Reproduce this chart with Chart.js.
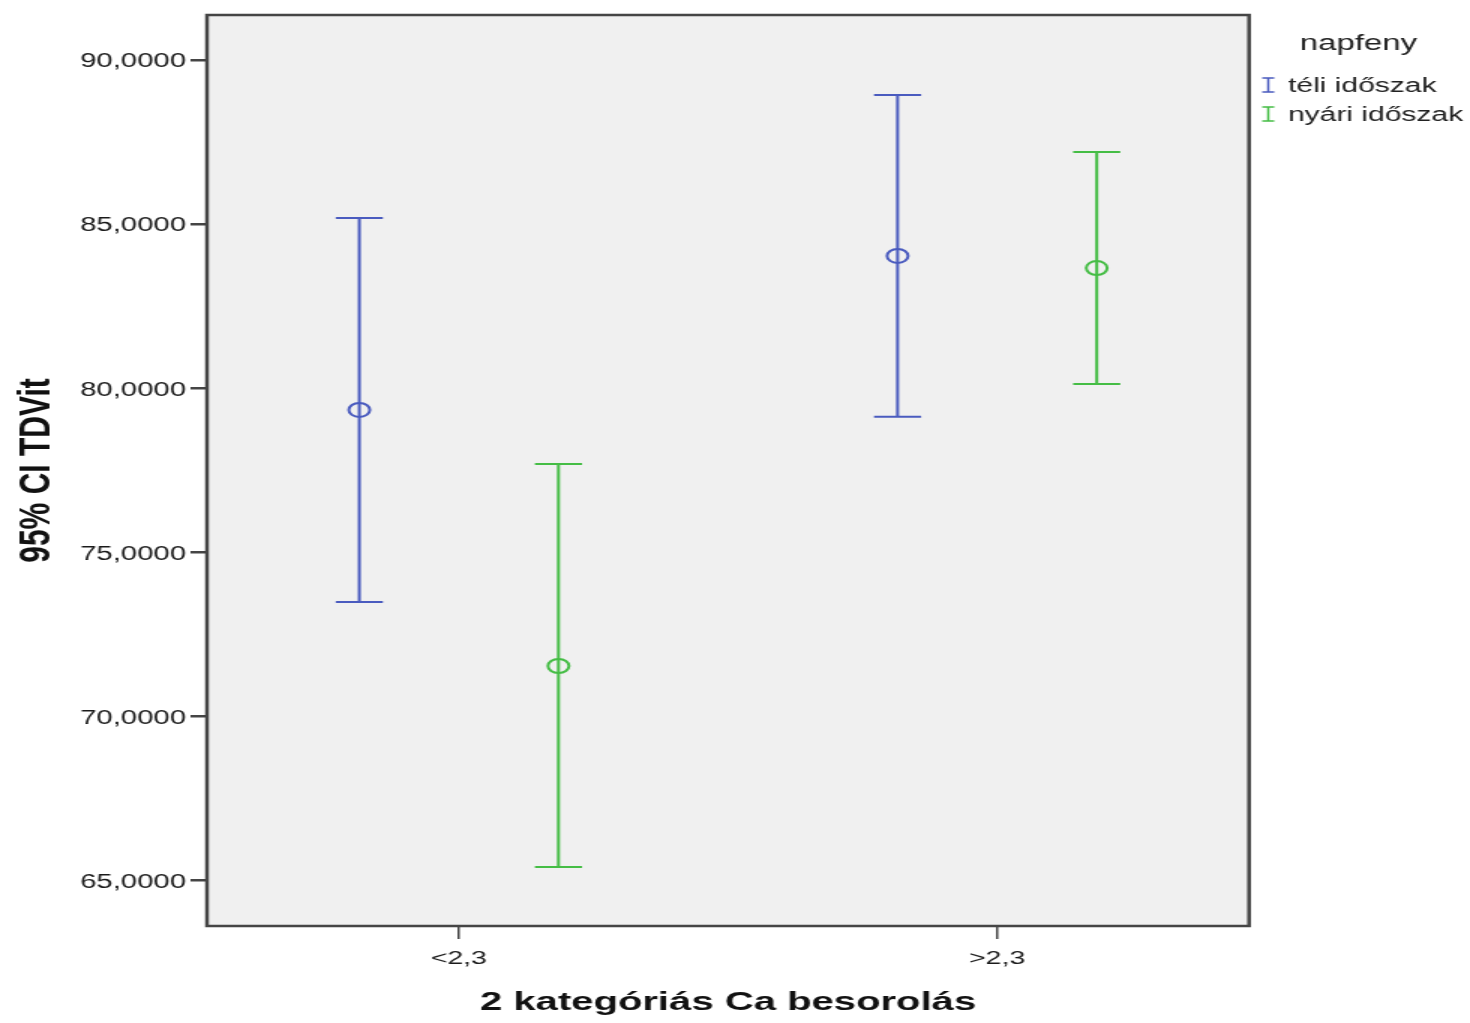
<!DOCTYPE html>
<html><head><meta charset="utf-8">
<script src="https://cdn.jsdelivr.net/npm/chart.js@4"></script>
<style>
html,body{margin:0;padding:0;background:#fff;overflow:hidden;}
#wrap{width:980px;height:1023px;transform:scaleX(1.5);transform-origin:0 0;}
</style></head>
<body><div id="wrap"><canvas id="c" width="980" height="1023"></canvas></div>
<script>
// ---- data ----
const categories = ['<2,3', '>2,3'];
const categoryPositions = [1, 2];
const seriesNames = ['téli időszak', 'nyári időszak'];
const teliMean  = [79.34, 84.03];
const teliLower = [73.49, 79.13];
const teliUpper = [85.19, 88.93];
const nyariMean  = [71.54, 83.66];
const nyariLower = [65.42, 80.13];
const nyariUpper = [77.69, 87.20];
const yTicks = [65, 70, 75, 80, 85, 90];
const legendTitle = 'napfeny';
const xTitle = '2 kategóriás Ca besorolás';
const yTitle = '95% CI TDVit';

// ---- styling ----
const FONT = "'Liberation Sans', Arial, sans-serif";
const colors = ['#4a5bbf', '#45bd45'];
const groupOffsets = [-0.185, 0.185];
const means = [teliMean, nyariMean];
const lowers = [teliLower, nyariLower];
const uppers = [teliUpper, nyariUpper];

const datasets = seriesNames.map((name, k) => ({
  label: name,
  data: categoryPositions.map((p, i) => ({x: p + groupOffsets[k], y: means[k][i], lo: lowers[k][i], hi: uppers[k][i]})),
  borderColor: colors[k],
  backgroundColor: 'rgba(0,0,0,0)',
  pointStyle: 'circle',
  pointRadius: 7,
  pointBorderWidth: 2,
  showLine: false
}));

const plotFrame = {
  id: 'plotFrame',
  beforeDraw(chart) {
    const {ctx, chartArea: a} = chart;
    ctx.save();
    ctx.fillStyle = '#f0f0f0';
    ctx.fillRect(a.left, a.top, a.right - a.left, a.bottom - a.top);
    ctx.restore();
  },
  afterDraw(chart) {
    const {ctx, chartArea: a} = chart;
    ctx.save();
    ctx.strokeStyle = '#454545';
    ctx.lineWidth = 2.5;
    ctx.strokeRect(a.left, a.top, a.right - a.left, a.bottom - a.top);
    // legend
    const r = a.right;
    ctx.fillStyle = '#222';
    ctx.textBaseline = 'middle';
    ctx.textAlign = 'center';
    ctx.font = '22px ' + FONT;
    ctx.fillText(legendTitle, r + 73, 44);
    ctx.textAlign = 'left';
    ctx.font = '20px ' + FONT;
    chart.data.datasets.forEach((ds, i) => {
      const y = 85 + i * 29;
      const x = r + 12.8;
      ctx.strokeStyle = ds.borderColor;
      ctx.lineWidth = 1.5;
      ctx.beginPath();
      ctx.moveTo(x, y - 7); ctx.lineTo(x, y + 7);
      ctx.moveTo(x - 4, y - 7); ctx.lineTo(x + 4, y - 7);
      ctx.moveTo(x - 4, y + 7); ctx.lineTo(x + 4, y + 7);
      ctx.stroke();
      ctx.fillStyle = '#222';
      ctx.fillText(ds.label, r + 26, y + 1);
    });
    ctx.restore();
  }
};

const errorBars = {
  id: 'errorBars',
  beforeDatasetsDraw(chart) {
    const {ctx} = chart;
    const ys = chart.scales.y;
    ctx.save();
    chart.data.datasets.forEach((ds, k) => {
      const meta = chart.getDatasetMeta(k);
      ctx.strokeStyle = ds.borderColor;
      ctx.lineWidth = 2;
      meta.data.forEach((pt, i) => {
        const d = ds.data[i];
        const x = pt.x;
        const yl = ys.getPixelForValue(d.lo);
        const yh = ys.getPixelForValue(d.hi);
        const w = 15.7;
        ctx.beginPath();
        ctx.moveTo(x, yl); ctx.lineTo(x, yh);
        ctx.moveTo(x - w, yl); ctx.lineTo(x + w, yl);
        ctx.moveTo(x - w, yh); ctx.lineTo(x + w, yh);
        ctx.stroke();
      });
    });
    ctx.restore();
  }
};

new Chart(document.getElementById('c'), {
  type: 'scatter',
  data: {datasets},
  options: {
    responsive: false,
    animation: false,
    devicePixelRatio: 1,
    layout: {padding: {top: 15, right: 147.3, bottom: 0, left: 0}},
    plugins: {legend: {display: false}, tooltip: {enabled: false}},
    scales: {
      x: {
        type: 'linear',
        min: 0.532, max: 2.468,
        afterBuildTicks: s => { s.ticks = categoryPositions.map(v => ({value: v})); },
        afterFit: s => { s.height = 97; },
        grid: {drawOnChartArea: false, drawTicks: true, tickLength: 13, color: '#454545', lineWidth: 1.5},
        border: {display: false},
        ticks: {
          autoSkip: false, maxRotation: 0, padding: 8,
          color: '#1a1a1a', font: {family: FONT, size: 19},
          callback: v => categories[categoryPositions.indexOf(v)]
        },
        title: {display: true, text: xTitle, color: '#111', font: {family: FONT, size: 26.7, weight: 'bold'}, padding: {top: 0, bottom: 4}}
      },
      y: {
        min: 63.62, max: 91.37,
        afterBuildTicks: s => { s.ticks = yTicks.map(v => ({value: v})); },
        afterFit: s => { s.width = 138; },
        grid: {drawOnChartArea: false, drawTicks: true, tickLength: 11, color: '#454545', lineWidth: 2.5},
        border: {display: false},
        ticks: {
          padding: 3, labelOffset: 2, color: '#1a1a1a', font: {family: FONT, size: 19.5},
          callback: v => v.toFixed(4).replace('.', ',')
        },
        title: {display: true, text: yTitle, color: '#111', font: {family: FONT, size: 30, weight: 'bold'}, padding: {top: 7, bottom: 0}}
      }
    }
  },
  plugins: [plotFrame, errorBars]
});
</script>
</body></html>
